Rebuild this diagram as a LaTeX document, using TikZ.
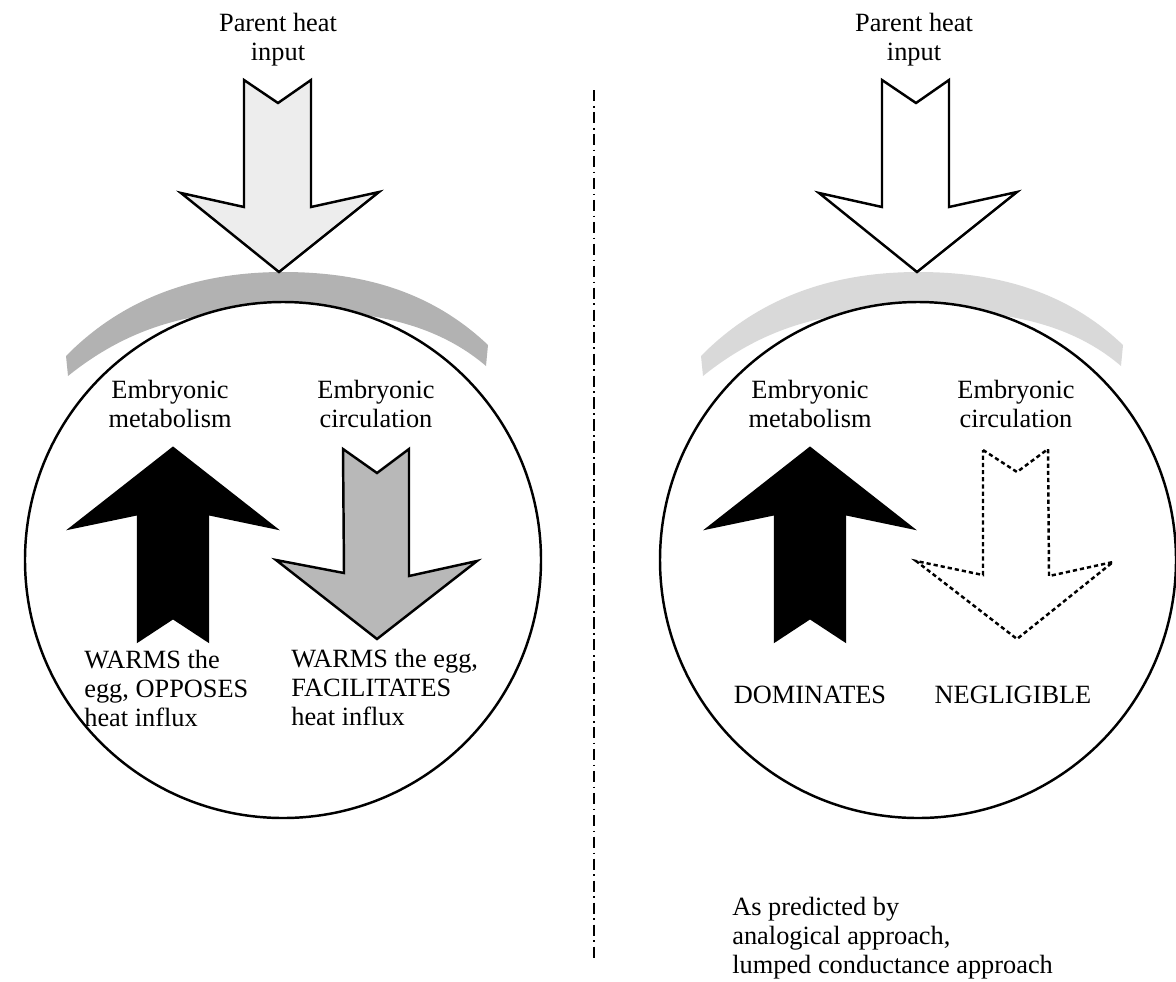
\documentclass[tikz,border=0pt]{standalone}
\usepackage{fontspec}
\setmainfont{Liberation Serif}
\begin{document}
\begin{tikzpicture}[x=0.02cm,y=-0.02cm,
  txt/.style={font=\fontsize{15}{16.5}\selectfont, inner sep=0pt},
  egg/.style={draw, fill=white, line width=1.4pt},
  bigarrow/.style={draw, line width=1.4pt, line join=miter},
  bandL/.style={fill=black!30},
  bandR/.style={fill=black!15},
  divider/.style={line width=1pt, dash pattern=on 6.5pt off 2.5pt on 1pt off 2.5pt}]
\useasboundingbox (0,0) rectangle (1176,981);

% divider
\coordinate (dtop) at (594,90);
\coordinate (dbot) at (594,962);
\draw[divider] (dtop) -- (dbot);

% ---------------- left panel ----------------
\fill[bandL] (68,376) .. controls (140,318) and (210,310) .. (283,310)
  .. controls (356,310) and (430,318) .. (486,366)
  -- (488,345) .. controls (430,290) and (360,272) .. (283,272)
  .. controls (200,272) and (125,296) .. (66,356) -- cycle;
\draw[egg] (283,560) circle [radius=258];

\filldraw[bigarrow, fill=black!7] (244,80) -- (278,103) -- (311,80) -- (311,207) -- (379,192)
  -- (279,272) -- (181,193) -- (244,207) -- cycle;

\filldraw[bigarrow, fill=black] (173,448) -- (275,528) -- (208,514) -- (208,641) -- (173,618)
  -- (138,641) -- (138,514) -- (71,528) -- cycle;

\filldraw[bigarrow, fill=black!28] (343,449) -- (377,473) -- (409,449) -- (409,576) -- (477,561)
  -- (377,639) -- (276,560) -- (344,573) -- cycle;

\node[txt, anchor=north, align=center] (pL) at (278,13) {Parent heat\\input};
\node[txt, anchor=north, align=center] (mL) at (170,380) {Embryonic\\metabolism};
\node[txt, anchor=north, align=center] (cL) at (376,380) {Embryonic\\circulation};
\node[txt, anchor=north west, align=left] (wL) at (84,650) {WARMS the\\egg, OPPOSES\\heat influx};
\node[txt, anchor=north west, align=left] (fL) at (291,649) {WARMS the egg,\\FACILITATES\\heat influx};

% ---------------- right panel ----------------
\fill[bandR] (703,376) .. controls (775,318) and (845,310) .. (918,310)
  .. controls (991,310) and (1065,318) .. (1121,366)
  -- (1123,345) .. controls (1065,290) and (995,272) .. (918,272)
  .. controls (835,272) and (760,296) .. (701,356) -- cycle;
\draw[egg] (918,560) circle [radius=258];

\filldraw[bigarrow, fill=white] (882,80) -- (916,103) -- (949,80) -- (949,207) -- (1017,192)
  -- (917,272) -- (819,193) -- (882,207) -- cycle;

\filldraw[bigarrow, fill=black] (810,448) -- (912,528) -- (845,514) -- (845,641) -- (810,618)
  -- (775,641) -- (775,514) -- (708,528) -- cycle;

\draw[line width=1.4pt, dash pattern=on 2.4pt off 1.7pt, line join=miter]
  (983,450) -- (1017,472) -- (1048,449) -- (1049,576) -- (1113,562)
  -- (1017,639) -- (916,561) -- (983,575) -- cycle;

\node[txt, anchor=north, align=center] (pR) at (914,13) {Parent heat\\input};
\node[txt, anchor=north, align=center] (mR) at (810,380) {Embryonic\\metabolism};
\node[txt, anchor=north, align=center] (cR) at (1016,380) {Embryonic\\circulation};
\node[txt, anchor=base] (dR) at (810,703) {DOMINATES};
\node[txt, anchor=base] (nR) at (1013,703) {NEGLIGIBLE};
\node[txt, anchor=north west, align=left] (aR) at (732,897) {As predicted by\\analogical approach,\\lumped conductance approach};
\end{tikzpicture}
\end{document}
